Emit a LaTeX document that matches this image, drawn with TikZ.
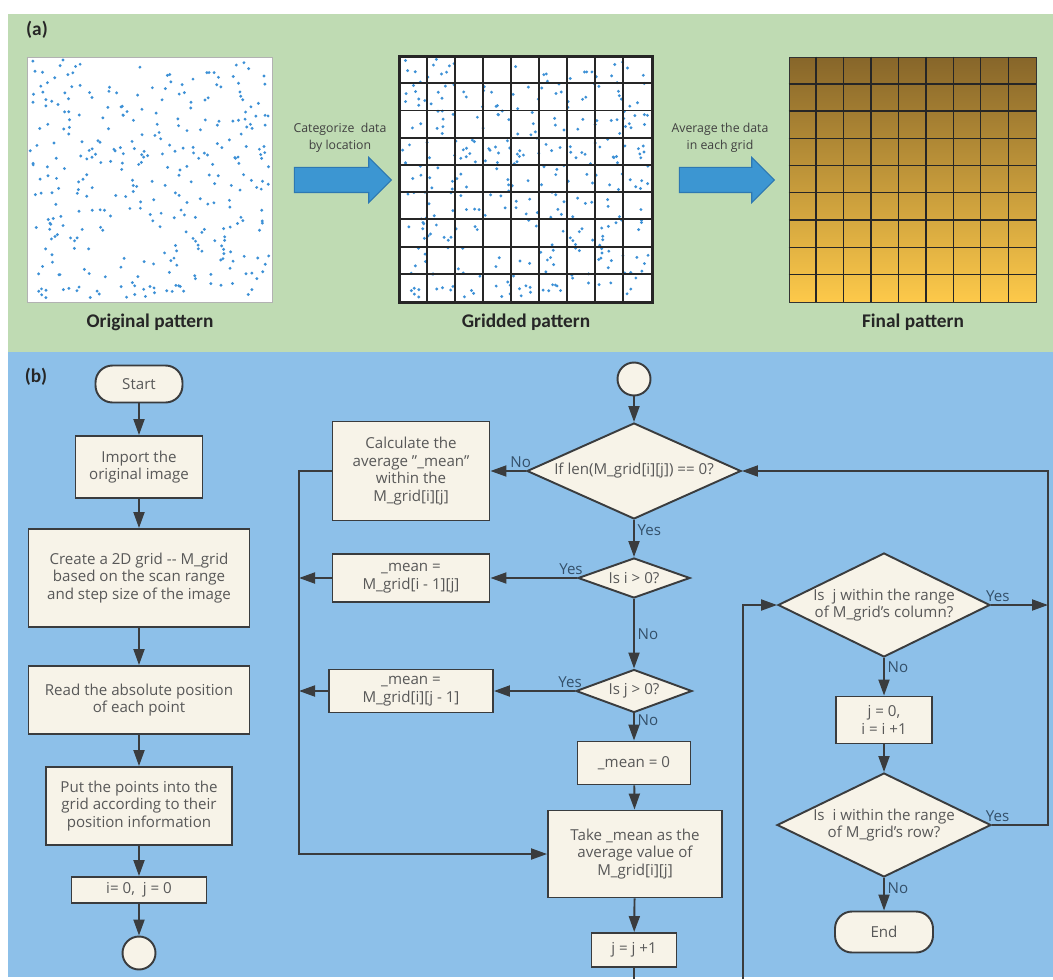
\documentclass[tikz,border=0pt]{standalone}
\usepackage{fontspec}
\setmainfont{Open Sans}
\newfontfamily\panelfont{Carlito}
\usepackage{tikz}
\usepackage{xcolor}
\usetikzlibrary{positioning, arrows.meta, calc, shapes.geometric, shapes.arrows}
\definecolor{pnlgreen}{RGB}{191, 219, 179}
\definecolor{pnlblue}{RGB}{141, 192, 233}
\definecolor{boxfill}{RGB}{247, 243, 232}
\definecolor{boxline}{RGB}{58, 60, 62}
\definecolor{boxtext}{RGB}{88, 88, 88}
\definecolor{yesno}{RGB}{52, 80, 106}
\definecolor{dotblue}{RGB}{60, 144, 214}
\definecolor{arrfill}{RGB}{60, 150, 210}
\definecolor{arrline}{RGB}{45, 120, 178}
\definecolor{fintop}{RGB}{135, 102, 42}
\definecolor{finbot}{RGB}{253, 201, 74}

\begin{document}
\begin{tikzpicture}[x=0.02cm, y=-0.02cm,
      proc/.style={draw=boxline, fill=boxfill, line width=1.1pt, text=boxtext, align=center,
        font=\fontsize{8.6}{9.9}\selectfont, inner sep=2pt},
      term/.style={proc, rounded corners=0.34cm},
      conn/.style={proc, circle, minimum size=0.66cm, inner sep=0pt},
      decide/.style={proc, diamond, inner sep=0pt},
      arr/.style={-{Triangle[length=3.2mm, width=2.2mm]}, line width=1.1pt, boxline},
      wire/.style={line width=1.1pt, boxline},
      yn/.style={text=yesno, font=\fontsize{8.6}{9.9}\selectfont, inner sep=1.5pt},
      patbox/.style={minimum width=4.9cm, minimum height=4.9cm, inner sep=0pt},
      bigarrow/.style={single arrow, fill=arrfill, draw=arrline, line width=0.6pt,
        inner xsep=0pt, inner ysep=0.24cm, single arrow head extend=0.2cm, single arrow head indent=0pt},
      steplbl/.style={text=black!75, align=center, font=\fontsize{7}{10}\selectfont},
      caption/.style={font=\panelfont\bfseries\fontsize{11}{13}\selectfont, text=black!85}
    ]
    \useasboundingbox (0,0) rectangle (1053,979);
    \fill[white] (0,0) rectangle (1053,979);
    \fill[pnlgreen] (8,14) rectangle (1053,352);
    \fill[pnlblue] (8,352) rectangle (1053,977);

    % (a) from points to the averaged grid
    \node[caption] (tagA) at (37,30) {(a)};
    \node[patbox, draw=black!30, fill=white] (orig) at (149.5,179.5) {};
    \node[patbox, minimum width=5.04cm, draw=black!85, line width=1.1pt, fill=white] (grd) at (526,179.5) {};
    \node[patbox, minimum width=4.94cm, draw=black!80, top color=fintop, bottom color=finbot] (fin) at (912.5,179.5) {};

    \pgfmathsetseed{42}
    \foreach \k in {1,...,340}
      \fill[dotblue] ($(orig.north west)+({3+rnd*239},{3+rnd*239})$) circle (0.032cm);
    \pgfmathsetseed{42}
    \foreach \k in {1,...,340}
      \fill[dotblue] ($(grd.north west)+({3+rnd*246},{3+rnd*239})$) circle (0.032cm);
    \foreach \k in {1,...,8} {
      \draw[black!85, line width=1.1pt] ($(grd.north west)+(\k*28,0)$) -- ($(grd.south west)+(\k*28,0)$);
      \draw[black!85, line width=1.1pt] ($(grd.north west)+(0,\k*27.22)$) -- ($(grd.north east)+(0,\k*27.22)$);
      \draw[black!85, line width=0.8pt] ($(fin.north west)+(\k*27.44,0)$) -- ($(fin.south west)+(\k*27.44,0)$);
      \draw[black!85, line width=0.8pt] ($(fin.north west)+(0,\k*27.22)$) -- ($(fin.north east)+(0,\k*27.22)$);
    }
    \draw[black!85, line width=1.1pt] (grd.south west) rectangle (grd.north east);

    \node[bigarrow, minimum height=1.94cm] (arrA) at (336.5,180) {};
    \node[bigarrow, minimum height=1.90cm] (arrB) at (720.5,180) {};
    \node[steplbl] (txtA) at (340,138) {Categorize\ \ data\\by location};
    \node[steplbl] (txtB) at (720,138) {Average the data\\in each grid};

    \node[caption] (capO) at (150,322) {Original pattern};
    \node[caption] (capG) at (526,322) {Gridded pattern};
    \node[caption] (capF) at (913,322) {Final pattern};

    % (b) flow chart
    \node[caption] (tagB) at (36,377) {(b)};

    \node[term, minimum width=1.74cm, minimum height=0.74cm] (start) at (139,384) {Start};
    \node[proc, minimum width=2.54cm, minimum height=1.24cm] (import) at (139,467) {Import the\\original image};
    \node[proc, minimum width=4.42cm, minimum height=1.96cm] (create) at (139,578)
      {Create a 2D grid -{}- M\_grid\\based on the scan range\\and step size of the image};
    \node[proc, minimum width=4.42cm, minimum height=1.36cm] (read) at (139,700)
      {Read the absolute position\\of each point};
    \node[proc, minimum width=3.72cm, minimum height=1.56cm] (put) at (139,806)
      {Put the points into the\\grid according to their\\position information};
    \node[proc, minimum width=2.70cm, minimum height=0.52cm] (init) at (139,890) {i= 0,\ \ j = 0};
    \node[conn] (conn1) at (139,953) {};

    \node[conn] (conn2) at (634,379) {};
    \node[decide, minimum width=4.28cm, minimum height=1.92cm, aspect=2.23] (dlen) at (634,471)
      {If len(M\_grid[i][j]) == 0?};
    \node[proc, minimum width=3.14cm, minimum height=1.98cm] (calc) at (411,471)
      {Calculate the\\average "\_mean"\\within the\\M\_grid[i][j]};
    \node[decide, minimum width=2.24cm, minimum height=0.80cm, aspect=2.8] (di) at (634,578) {Is i > 0?};
    \node[proc, minimum width=3.14cm, minimum height=0.96cm] (mean1) at (411,578) {\_mean =\\M\_grid[i - 1][j]};
    \node[decide, minimum width=2.32cm, minimum height=0.86cm, aspect=2.7] (dj) at (634,691) {Is j > 0?};
    \node[proc, minimum width=3.28cm, minimum height=0.86cm] (mean2) at (411,691) {\_mean =\\M\_grid[i][j - 1]};
    \node[proc, minimum width=2.26cm, minimum height=0.86cm] (mean0) at (634,763) {\_mean = 0};
    \node[proc, minimum width=3.48cm, minimum height=1.74cm] (take) at (635,854)
      {Take \_mean as the\\average value of\\M\_grid[i][j]};
    \node[proc, minimum width=1.70cm, minimum height=0.68cm] (jinc) at (634,950) {j = j +1};

    \node[decide, minimum width=4.24cm, minimum height=2.08cm, aspect=2.04] (dcol) at (884,605)
      {Is\ \ j within the range\\of M\_grid's column?};
    \node[proc, minimum width=1.92cm, minimum height=0.94cm] (reset) at (884,720) {j = 0,\\i = i +1};
    \node[decide, minimum width=4.28cm, minimum height=2.08cm, aspect=2.06] (drow) at (884,825)
      {Is\ \ i within the range\\of M\_grid's row?};
    \node[term, minimum width=1.96cm, minimum height=0.82cm] (endn) at (884,932) {End};

    \coordinate (busL) at (299,471);
    \coordinate (busR) at (1048,471);
    \coordinate (loopA) at (634,979);
    \coordinate (loopB) at (743,979);

    \draw[arr] (start) -- (import);
    \draw[arr] (import) -- (create);
    \draw[arr] (create) -- (read);
    \draw[arr] (read) -- (put);
    \draw[arr] (put) -- (init);
    \draw[arr] (init) -- (conn1);

    \draw[arr] (conn2) -- (dlen);
    \draw[arr] (dlen) -- node[yn, pos=0.15, above] {No} (calc);
    \draw[arr] (dlen) -- node[yn, pos=0.28, right] {Yes} (di);
    \draw[arr] (di) -- node[yn, pos=0.07, above] {Yes} (mean1);
    \draw[arr] (di) -- node[yn, pos=0.5, right] {No} (dj);
    \draw[arr] (dj) -- node[yn, pos=0.06, above] {Yes} (mean2);
    \draw[arr] (dj) -- node[yn, pos=0.25, right] {No} (mean0);
    \draw[arr] (mean0) -- (take);
    \draw[arr] (take) -- (jinc);
    \draw[arr] (calc.west) -- (busL) |- (take.west);
    \draw[arr] (mean1.west) -- (mean1.west -| busL);
    \draw[arr] (mean2.west) -- (mean2.west -| busL);
    \draw[wire] (jinc) -- (loopA);

    \draw[arr] (loopB) |- (dcol.west);
    \draw[arr] (dcol.east) -- node[yn, pos=0.12, above] {Yes} (dcol.east -| busR);
    \draw[arr] (dcol) -- node[yn, pos=0.25, right] {No} (reset);
    \draw[arr] (reset) -- (drow);
    \draw[arr] (drow.east) -| node[yn, pos=0.05, above] {Yes} (busR) -- (dlen.east);
    \draw[arr] (drow) -- node[yn, pos=0.3, right] {No} (endn);
  \end{tikzpicture}
\end{document}
